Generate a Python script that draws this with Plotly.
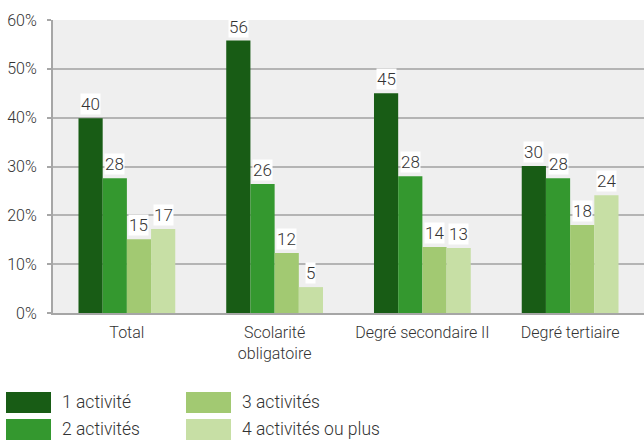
import plotly.graph_objects as go

categories = ["Total", "Scolarité<br>obligatoire", "Degré secondaire II", "Degré tertiaire"]
series_names = ["1 activité", "2 activités", "3 activités", "4 activités ou plus"]
s1 = [39.9, 55.8, 45.0, 30.1]
s2 = [27.6, 26.4, 28.0, 27.6]
s3 = [15.1, 12.3, 13.5, 18.0]
s4 = [17.2, 5.3, 13.3, 24.1]
labels1 = ["40", "56", "45", "30"]
labels2 = ["28", "26", "28", "28"]
labels3 = ["15", "12", "14", "18"]
labels4 = ["17", "5", "13", "24"]
colors = ["#185c15", "#34982f", "#a2c972", "#c7dfa5"]

values = [s1, s2, s3, s4]
labels = [labels1, labels2, labels3, labels4]

FONT = "Roboto"
W, H = 644, 440
ML, MR, MT, MB = 53, 0, 20, 127
BARGAP = 0.345
TXT = "#333333"

fig = go.Figure()
for name, vals, col in zip(series_names, values, colors):
    fig.add_trace(go.Bar(x=categories, y=vals, name=name, marker=dict(color=col, line=dict(width=0)),
                         showlegend=False, hoverinfo="x+y+name"))

plot_w = W - ML - MR
plot_h = H - MT - MB
cat_w = plot_w / len(categories)
bar_w = cat_w * (1 - BARGAP) / len(values)
annotations = []
for k, (vals, labs) in enumerate(zip(values, labels)):
    for cat, v, lab in zip(categories, vals, labs):
        annotations.append(dict(x=cat, y=v, text=lab, showarrow=False, xref="x", yref="y",
                                xshift=(k - 1.5) * bar_w, yanchor="bottom", yshift=3,
                                bgcolor="white", borderpad=0,
                                font=dict(family=FONT, size=17, color=TXT, weight=300)))

# manual legend (two columns, column-major)
leg_pos = [(6, 392), (6, 419), (186, 392), (186, 419)]
shapes = []
for (lx, ly), name, col in zip(leg_pos, series_names, colors):
    shapes.append(dict(type="rect", xref="paper", yref="paper",
                       x0=(lx - ML) / plot_w, x1=(lx + 45 - ML) / plot_w,
                       y0=(H - MB - (ly + 21)) / plot_h, y1=(H - MB - ly) / plot_h,
                       fillcolor=col, line=dict(width=0)))
    annotations.append(dict(xref="paper", yref="paper", x=(lx + 54 - ML) / plot_w,
                            y=(H - MB - (ly + 10)) / plot_h, text=name, showarrow=False,
                            xanchor="left", yanchor="middle",
                            font=dict(family=FONT, size=17.5, color=TXT, weight=300)))

fig.update_layout(
    width=W, height=H,
    margin=dict(l=ML, r=MR, t=MT, b=MB),
    paper_bgcolor="white", plot_bgcolor="#efefef",
    barmode="group", bargap=BARGAP, bargroupgap=0,
    font=dict(family=FONT, size=16, color=TXT, weight=300),
    annotations=annotations, shapes=shapes,
)
fig.update_yaxes(range=[0, 60], dtick=10, ticksuffix="%", showgrid=True, gridcolor="#b4b4b4", gridwidth=1.5,
                 showline=True, linecolor="#a6a6a6", linewidth=2, ticks="outside", ticklen=4,
                 tickcolor="#a6a6a6", tickwidth=1.5, zeroline=False, ticklabelstandoff=7,
                 tickfont=dict(family=FONT, size=16, color=TXT, weight=300))
fig.update_xaxes(showline=True, linecolor="#a6a6a6", linewidth=2, ticks="", showgrid=False,
                 ticklabelstandoff=4,
                 tickfont=dict(family=FONT, size=16, color=TXT, weight=300))

fig.write_html("out.html", post_script="document.body.style.margin='0';",
               config={"displayModeBar": False})
